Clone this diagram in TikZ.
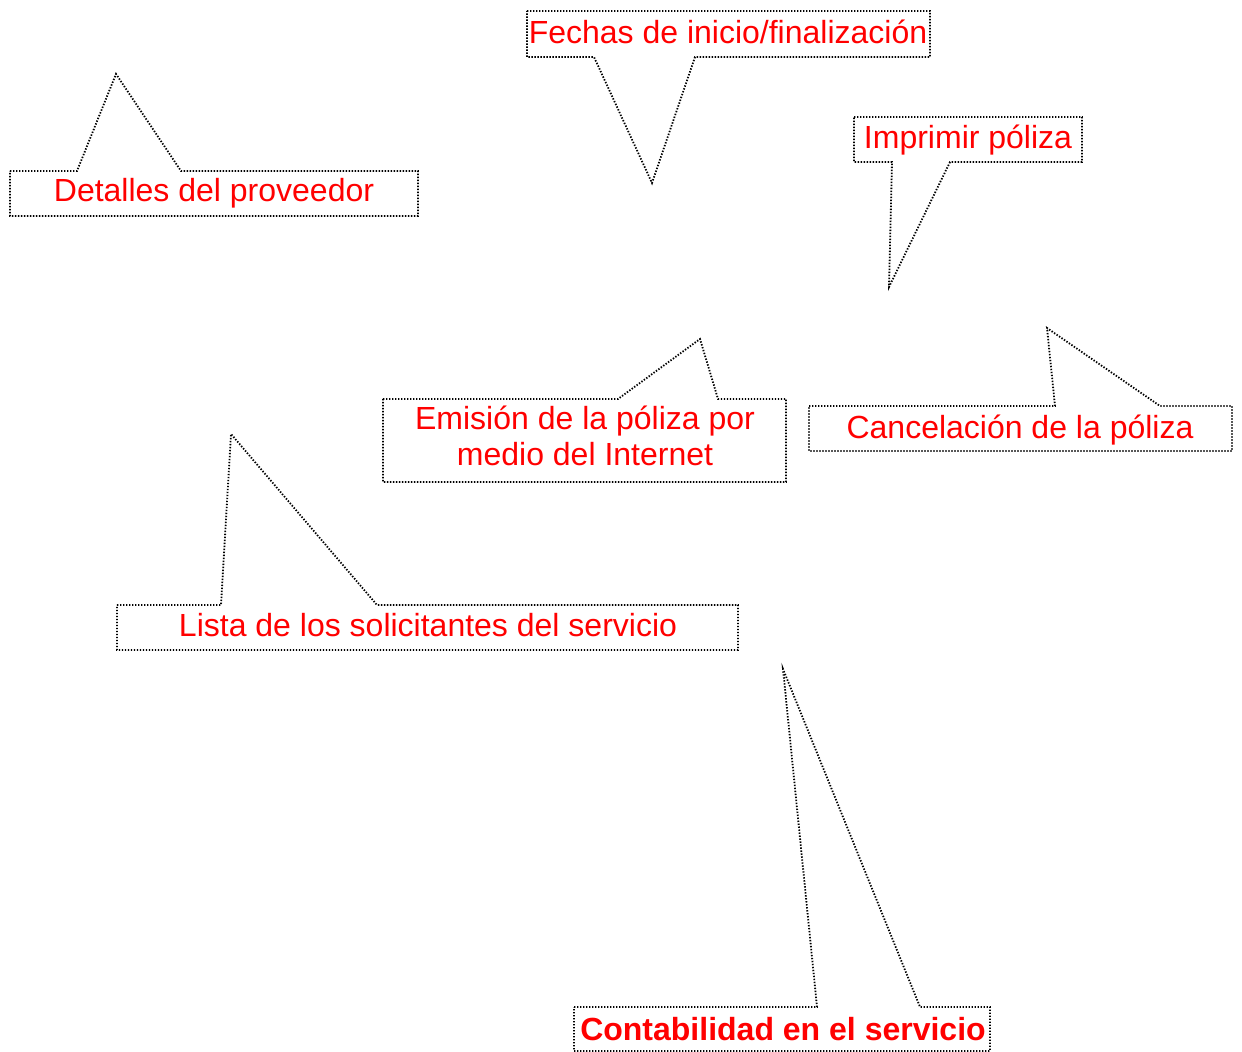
\documentclass[tikz,border=0pt]{standalone}
\usepackage{fontspec}
\setmainfont{Liberation Sans}
\begin{document}
\begin{tikzpicture}[x=0.5pt,y=-0.5pt,
   bubble/.style={draw=black,line width=0.9pt,dash pattern=on 0.7pt off 0.8pt,line join=miter},
   redtext/.style={text=red,font=\fontsize{16}{18}\selectfont,align=center,inner sep=0pt,anchor=base}]
   \useasboundingbox (0,0) rectangle (1242,1052);
   % callout outlines
   \draw[bubble] (10,171) -- (77,171) -- (116,74) -- (181,171) -- (418,171) -- (418,216) -- (10,216) -- cycle;
   \draw[bubble] (527,11) -- (930,11) -- (930,57) -- (695,57) -- (652,183) -- (594,57) -- (527,57) -- cycle;
   \draw[bubble] (854,117) -- (1082,117) -- (1082,162) -- (950,162) -- (889,287) -- (892,162) -- (854,162) -- cycle;
   \draw[bubble] (383,399) -- (618,399) -- (700,339) -- (718,399) -- (786,399) -- (786,482) -- (383,482) -- cycle;
   \draw[bubble] (809,406) -- (1055,406) -- (1047,328) -- (1160,406) -- (1232,406) -- (1232,451) -- (809,451) -- cycle;
   \draw[bubble] (117,605) -- (221,605) -- (231,434) -- (377,605) -- (738,605) -- (738,650) -- (117,650) -- cycle;
   \draw[bubble] (574,1007) -- (817,1007) -- (783,669) -- (920,1007) -- (990,1007) -- (990,1051) -- (574,1051) -- cycle;
   % texts
   \node (detalles) [redtext] at (214,202) {Detalles del proveedor};
   \node (fechas) [redtext] at (728,44) {Fechas de inicio/finalización};
   \node (imprimir) [redtext] at (968,149) {Imprimir póliza};
   \node (emision) [redtext] at (585,466) {Emisión de la póliza por\\medio del Internet};
   \node (cancelacion) [redtext] at (1020,439) {Cancelación de la póliza};
   \node (lista) [redtext] at (428,637) {Lista de los solicitantes del servicio};
   \node (contabilidad) [redtext,font=\fontsize{16}{18}\selectfont\bfseries] at (783,1040) {Contabilidad en el servicio};
\end{tikzpicture}
\end{document}
